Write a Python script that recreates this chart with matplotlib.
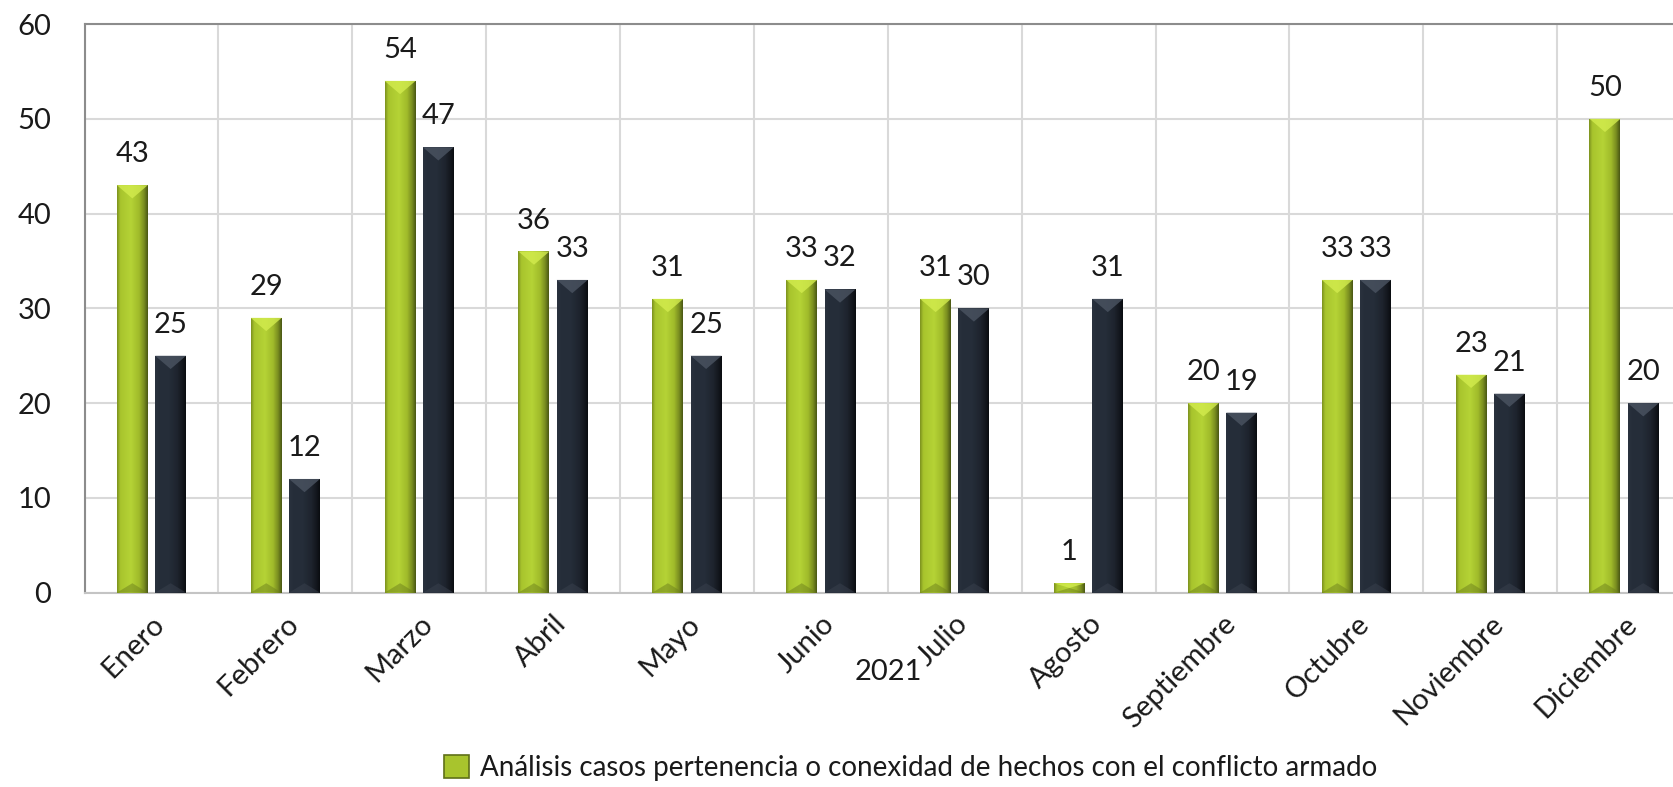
import numpy as np
import matplotlib
matplotlib.use("Agg")
import matplotlib.pyplot as plt
from matplotlib.patches import Polygon, Rectangle
from matplotlib.colors import LinearSegmentedColormap
from matplotlib.transforms import ScaledTranslation

# data
months = ["Enero", "Febrero", "Marzo", "Abril", "Mayo", "Junio", "Julio",
          "Agosto", "Septiembre", "Octubre", "Noviembre", "Diciembre"]
analisis = [43, 29, 54, 36, 31, 33, 31, 1, 20, 33, 23, 50]
segunda = [25, 12, 47, 33, 25, 32, 30, 31, 19, 33, 21, 20]
yticks = [0, 10, 20, 30, 40, 50, 60]
year_label = "2021"
legend_label = "Análisis casos pertenencia o conexidad de hechos con el conflicto armado"

plt.rcParams['font.family'] = ['Lato', 'DejaVu Sans']
plt.rcParams['font.weight'] = 'normal'

fig = plt.figure(figsize=(16.74, 7.87), dpi=100)
ax = fig.add_axes([0.0505, 0.2469, 0.9597, 0.7226])

green_cmap = LinearSegmentedColormap.from_list(
    "green", [(0, "#7d921f"), (0.1, "#a8c42d"), (0.45, "#b5d336"),
              (0.72, "#a0ba2a"), (0.88, "#7a8e20"), (1, "#4a5814")])
dark_cmap = LinearSegmentedColormap.from_list(
    "dark", [(0, "#2a323e"), (0.1, "#262e3a"), (0.45, "#252d39"),
             (0.72, "#1e242e"), (0.88, "#14181f"), (1, "#0a0c10")])


def bevel_bar(ax, x, h, w, cmap, top_col, bot_col):
    """bar with a horizontal gradient and light/dark bevel triangles"""
    rect = ax.bar(x, h, w, color=cmap(0.5), zorder=3, linewidth=0)[0]
    grad = np.linspace(0, 1, 64).reshape(1, -1)
    im = ax.imshow(grad, cmap=cmap, extent=(x - w / 2, x + w / 2, 0, h),
                   aspect='auto', zorder=3.1, interpolation='bilinear')
    im.set_clip_path(rect)
    d = min(1.4, h / 2)
    ax.add_patch(Polygon([(x - w / 2, h), (x + w / 2, h), (x, h - d)],
                         closed=True, fc=top_col, ec='none', zorder=3.2, alpha=0.8))
    ax.add_patch(Polygon([(x - w / 2, 0), (x + w / 2, 0), (x, min(1.0, h / 2))],
                         closed=True, fc=bot_col, ec='none', zorder=3.2, alpha=0.5))


w = 0.2315
off = 0.143
xs = np.arange(len(months))
for i in xs:
    bevel_bar(ax, i - off, analisis[i], w, green_cmap, "#d3ec4e", "#6d801c")
    bevel_bar(ax, i + off, segunda[i], w, dark_cmap, "#4b5462", "#3a414e")
    ax.annotate(str(analisis[i]), (i - off, analisis[i]), xytext=(0, 16.5),
                textcoords='offset points', ha='center', va='baseline',
                fontsize=21, color='#1a1a1a')
    ax.annotate(str(segunda[i]), (i + off, segunda[i]), xytext=(0, 16.5),
                textcoords='offset points', ha='center', va='baseline',
                fontsize=21, color='#1a1a1a')

ax.set_xlim(-0.5, 11.5)
ax.set_ylim(0, 60)
ax.set_yticks(yticks)
ax.set_xticks(xs)
ax.set_xticks(np.arange(-0.5, 12, 0.5), minor=True)
ax.set_xticklabels(months, rotation=45, ha='right', va='top',
                   rotation_mode='anchor', fontsize=21, color='#1a1a1a')
for lbl in ax.get_xticklabels():
    lbl.set_transform(lbl.get_transform() + ScaledTranslation(-2 / 72, 0, fig.dpi_scale_trans))
ax.tick_params(axis='x', which='both', length=0, pad=13)
ax.tick_params(axis='y', length=0, pad=24, labelsize=21, labelcolor='#1a1a1a')

ax.grid(axis='y', color='#d9d9d9', lw=1.5, zorder=0)
ax.grid(axis='x', which='minor', color='#d9d9d9', lw=1.5, zorder=0)
ax.set_axisbelow(True)
for s in ['left', 'top']:
    ax.spines[s].set_color('#8c8c8c')
    ax.spines[s].set_linewidth(1.5)
ax.spines['bottom'].set_color('#c4c4c4')
ax.spines['bottom'].set_linewidth(1.5)
ax.spines['right'].set_visible(False)

fig.text(0.5305, 0.146, year_label, ha='center', va='center', fontsize=21, color='#1a1a1a')

handle = Rectangle((0, 0), 1, 1, fc="#a8c42d", ec="#5f7018", lw=1.2)
fig.legend([handle], [legend_label], loc='center', bbox_to_anchor=(0.544, 0.024),
           frameon=False, fontsize=20, handlelength=0.9, handleheight=0.9,
           handletextpad=0.4, labelcolor='#1a1a1a')

fig.savefig("out.png", dpi=100)
